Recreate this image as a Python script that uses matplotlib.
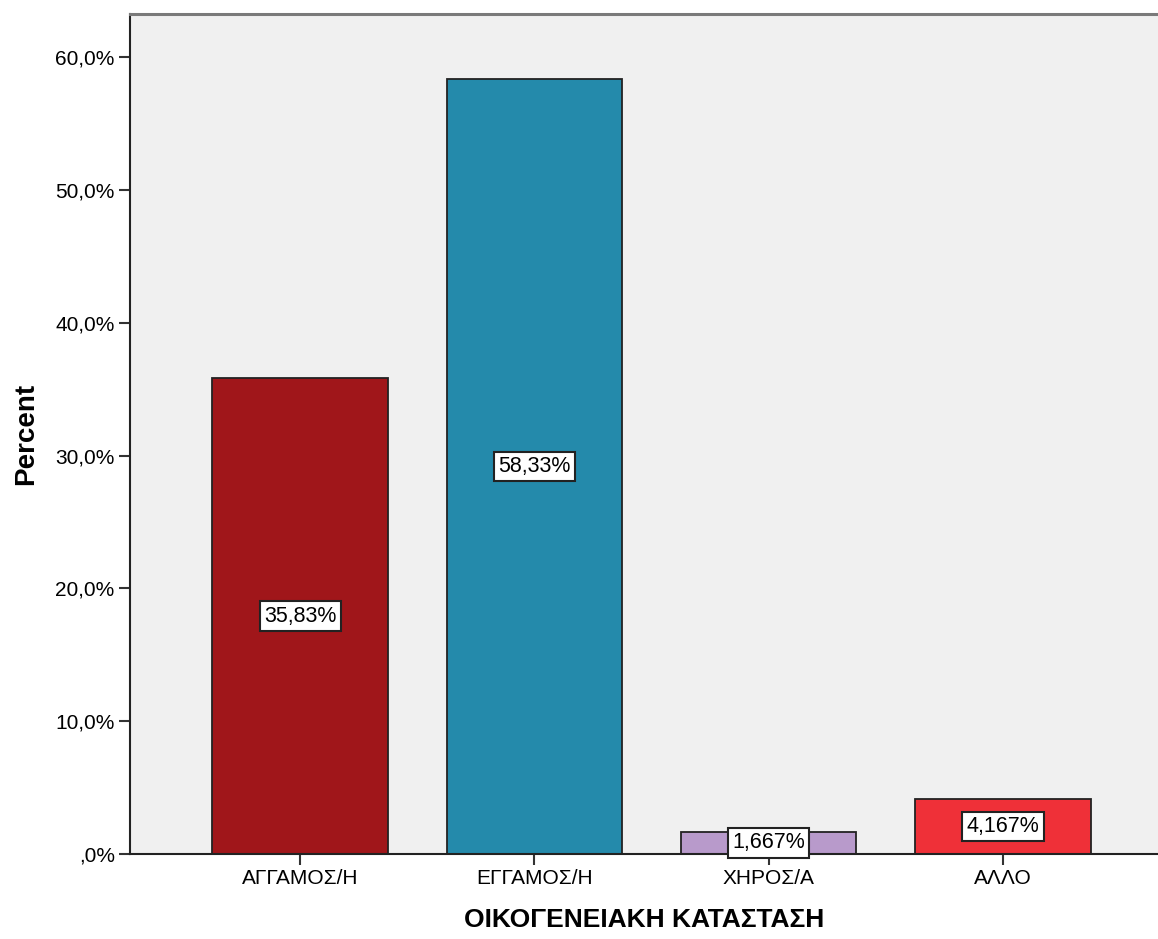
import matplotlib
matplotlib.use("Agg")
import matplotlib.pyplot as plt

categories = ["ΑΓΓΑΜΟΣ/Η", "ΕΓΓΑΜΟΣ/Η", "ΧΗΡΟΣ/Α", "ΑΛΛΟ"]
percents = [35.83, 58.33, 1.667, 4.167]
bar_labels = ["35,83%", "58,33%", "1,667%", "4,167%"]
colors = ["#A0161A", "#248AAB", "#B89ACB", "#EF3038"]
yticks = [0, 10, 20, 30, 40, 50, 60]
ytick_labels = [",0%", "10,0%", "20,0%", "30,0%", "40,0%", "50,0%", "60,0%"]

plt.rcParams['font.family'] = ['Liberation Sans', 'DejaVu Sans']

fig = plt.figure(figsize=(11.58, 9.39), dpi=100)
ax = fig.add_axes([130/1158, 85/939, 1 - 130/1158, 840/939])
ax.set_facecolor("#F0F0F0")

x = list(range(len(categories)))
ax.bar(x, percents, width=0.75, color=colors, edgecolor="#222222", linewidth=1.3, zorder=2)

for xi, v, lab in zip(x, percents, bar_labels):
    ax.text(xi, v / 2, lab, ha="center", va="center", fontsize=15.5, zorder=3,
            bbox=dict(boxstyle="square,pad=0.2", facecolor="white", edgecolor="#222222", linewidth=1.5))

ax.set_xlim(-0.726, 3.662)
ax.set_ylim(0, 63.25)
ax.set_yticks(yticks)
ax.set_yticklabels(ytick_labels, fontsize=15)
ax.set_xticks(x)
ax.set_xticklabels(categories, fontsize=15)
ax.tick_params(axis="both", direction="out", length=8, width=1.5, color="#333333", pad=3)

for s in ["left", "bottom"]:
    ax.spines[s].set_color("#222222")
    ax.spines[s].set_linewidth(1.5)
ax.spines["top"].set_color("#7A7A7A")
ax.spines["top"].set_linewidth(2.2)
ax.spines["right"].set_visible(False)

ax.set_ylabel("Percent", fontsize=20, fontweight="bold", labelpad=12)
ax.set_xlabel("ΟΙΚΟΓΕΝΕΙΑΚΗ ΚΑΤΑΣΤΑΣΗ", fontsize=19, fontweight="bold", labelpad=14)

fig.savefig("out.png", dpi=100)
